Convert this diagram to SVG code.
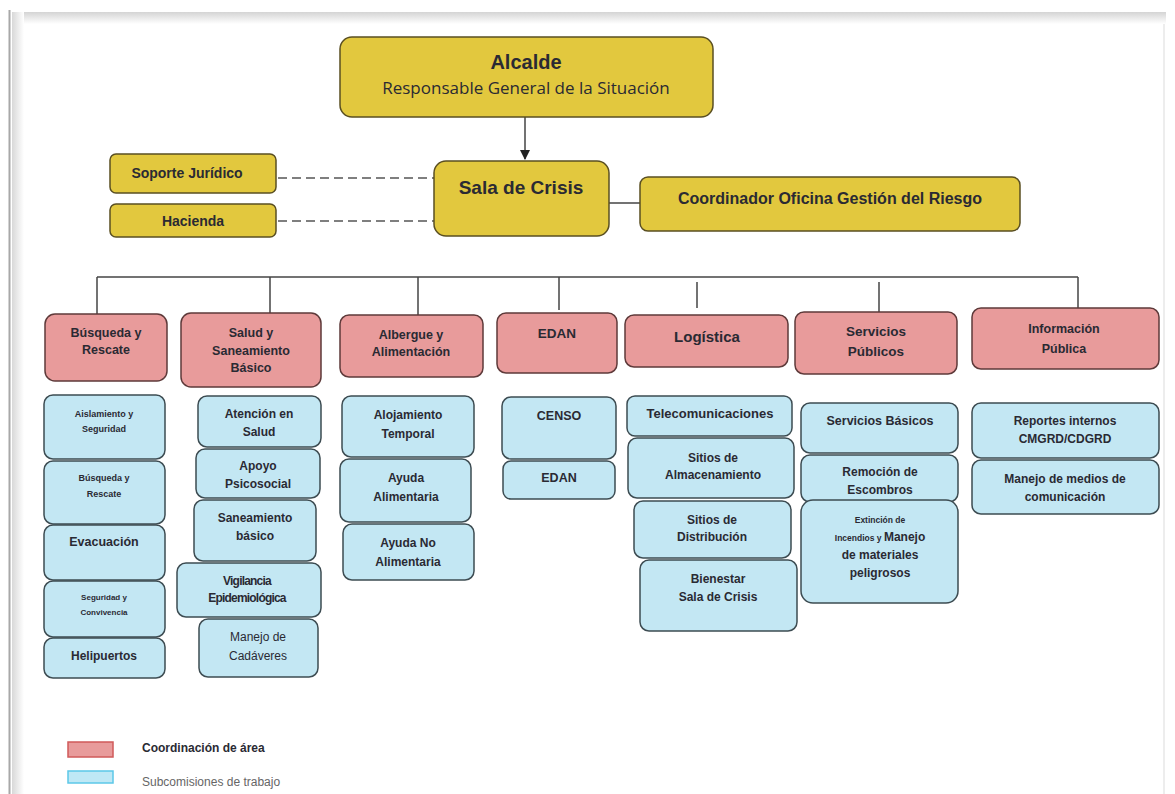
<svg xmlns="http://www.w3.org/2000/svg" width="1175" height="794" viewBox="0 0 1175 794">
<defs>
<linearGradient id="topShadow" x1="0" y1="0" x2="0" y2="1">
<stop offset="0" stop-color="#d4d4d4"/><stop offset="1" stop-color="#ffffff"/>
</linearGradient>
<linearGradient id="leftShadow" x1="0" y1="0" x2="1" y2="0">
<stop offset="0" stop-color="#d8d8d8"/><stop offset="1" stop-color="#ffffff"/>
</linearGradient>
<marker id="arrow" viewBox="0 0 10 10" refX="9" refY="5" markerWidth="7" markerHeight="7" orient="auto">
<path d="M0,0 L10,5 L0,10 z" fill="#222"/>
</marker>
<style>
text{font-family:"Liberation Sans",Arial,sans-serif;fill:#2a2a33;text-anchor:middle;}
.y{fill:#e2c83e;stroke:#5a4f22;stroke-width:1.5;}
.p{fill:#e89b9b;stroke:#5e3a3a;stroke-width:1.5;}
.b{fill:#c3e7f3;stroke:#3d4c52;stroke-width:1.5;}
.t{font-weight:bold;font-size:12px;}
.tp{font-weight:bold;font-size:12.5px;}
.s{font-weight:bold;font-size:9px;}
.ln{stroke:#444;stroke-width:1.5;fill:none;}
.dash{stroke:#555;stroke-width:1.5;stroke-dasharray:9,5;fill:none;}
</style>
</defs>
<rect x="0" y="0" width="1175" height="794" fill="#ffffff"/>
<rect x="14" y="12" width="1152" height="12" fill="url(#topShadow)"/>
<rect x="12" y="12" width="12" height="782" fill="url(#leftShadow)"/>
<line x1="9.5" y1="10" x2="9.5" y2="794" stroke="#a8a8a8" stroke-width="2"/>
<line x1="1164" y1="24" x2="1164" y2="794" stroke="#ededed" stroke-width="2"/>

<g id="connectors">
<line class="ln" x1="525" y1="117" x2="525" y2="159" marker-end="url(#arrow)"/>
<line class="dash" x1="278" y1="178" x2="434" y2="178"/>
<line class="dash" x1="278" y1="221" x2="434" y2="221"/>
<line class="ln" x1="609" y1="203" x2="640" y2="203"/>
<line class="ln" x1="97" y1="277" x2="1078" y2="277"/>
<line class="ln" x1="97" y1="277" x2="97" y2="314"/>
<line class="ln" x1="270" y1="277" x2="270" y2="313"/>
<line class="ln" x1="418" y1="277" x2="418" y2="315"/>
<line class="ln" x1="559" y1="277" x2="559" y2="310"/>
<line class="ln" x1="697" y1="282" x2="697" y2="308"/>
<line class="ln" x1="879" y1="282" x2="879" y2="312"/>
<line class="ln" x1="1078" y1="277" x2="1078" y2="308"/>
</g>

<g id="alcalde"><rect class="y" x="340" y="37" width="373" height="80" rx="12"/>
<text x="526" y="69" style="font-weight:bold;font-size:20px">Alcalde</text>
<text x="526" y="94" style="font-family:'Open Sans','Liberation Sans',sans-serif;font-size:17px">Responsable General de la Situación</text></g>

<g id="sala"><rect class="y" x="434" y="161" width="175" height="75" rx="12"/>
<text x="521" y="194" style="font-weight:bold;font-size:19px">Sala de Crisis</text></g>

<g id="soporte"><rect class="y" x="110" y="154" width="166" height="39" rx="6"/>
<text x="187" y="178" class="tp" style="font-size:14px">Soporte Jurídico</text></g>
<g id="hacienda"><rect class="y" x="110" y="204" width="166" height="33" rx="6"/>
<text x="193" y="226" class="tp" style="font-size:14px">Hacienda</text></g>

<g id="coordinador"><rect class="y" x="640" y="177" width="380" height="54" rx="8"/>
<text x="830" y="204" style="font-weight:bold;font-size:16px">Coordinador Oficina Gestión del Riesgo</text></g>

<!-- pink coordination -->
<g id="p-busqueda"><rect class="p" x="45" y="314" width="122" height="67" rx="10"/>
<text x="106" y="337" class="tp"><tspan x="106">Búsqueda y</tspan><tspan x="106" dy="17">Rescate</tspan></text></g>
<g id="p-salud"><rect class="p" x="181" y="313" width="140" height="74" rx="10"/>
<text x="251" y="337" class="tp"><tspan x="251">Salud y</tspan><tspan x="251" dy="17.5">Saneamiento</tspan><tspan x="251" dy="17.5">Básico</tspan></text></g>
<g id="p-albergue"><rect class="p" x="340" y="315" width="143" height="62" rx="9"/>
<text x="411" y="339" class="tp"><tspan x="411">Albergue y</tspan><tspan x="411" dy="17">Alimentación</tspan></text></g>
<g id="p-edan"><rect class="p" x="497" y="313" width="120" height="60" rx="9"/>
<text x="557" y="338" class="tp" style="font-size:13.5px">EDAN</text></g>
<g id="p-logistica"><rect class="p" x="625" y="315" width="163" height="52" rx="9"/>
<text x="707" y="342" class="tp" style="font-size:15px">Logística</text></g>
<g id="p-servicios"><rect class="p" x="795" y="312" width="162" height="62" rx="9"/>
<text x="876" y="336" class="tp" style="font-size:13.5px"><tspan x="876">Servicios</tspan><tspan x="876" dy="20">Públicos</tspan></text></g>
<g id="p-informacion"><rect class="p" x="972" y="308" width="187" height="61" rx="9"/>
<text x="1064" y="333" class="tp"><tspan x="1064">Información</tspan><tspan x="1064" dy="20">Pública</tspan></text></g>

<!-- column 1 -->
<g id="b-aislamiento"><rect class="b" x="44" y="395" width="121" height="64" rx="9"/>
<text x="104" y="417" class="s"><tspan x="104">Aislamiento y</tspan><tspan x="104" dy="15">Seguridad</tspan></text></g>
<g id="b-busqueda"><rect class="b" x="44" y="461" width="121" height="63" rx="9"/>
<text x="104" y="481" class="s"><tspan x="104">Búsqueda y</tspan><tspan x="104" dy="16">Rescate</tspan></text></g>
<g id="b-evacuacion"><rect class="b" x="44" y="525" width="121" height="55" rx="9"/>
<text x="104" y="546" class="t" style="font-size:12.5px">Evacuación</text></g>
<g id="b-seguridad"><rect class="b" x="44" y="581" width="121" height="56" rx="9"/>
<text x="104" y="600" class="s" style="font-size:8px"><tspan x="104">Seguridad y</tspan><tspan x="104" dy="15">Convivencia</tspan></text></g>
<g id="b-helipuertos"><rect class="b" x="44" y="638" width="121" height="40" rx="9"/>
<text x="104" y="660" class="t">Helipuertos</text></g>

<!-- column 2 -->
<g id="b-atencion"><rect class="b" x="198" y="396" width="123" height="51" rx="9"/>
<text x="259" y="418" class="t"><tspan x="259">Atención en</tspan><tspan x="259" dy="18">Salud</tspan></text></g>
<g id="b-apoyo"><rect class="b" x="196" y="449" width="124" height="49" rx="9"/>
<text x="258" y="470" class="t"><tspan x="258">Apoyo</tspan><tspan x="258" dy="18">Psicosocial</tspan></text></g>
<g id="b-saneamiento"><rect class="b" x="194" y="500" width="122" height="61" rx="9"/>
<text x="255" y="522" class="t"><tspan x="255">Saneamiento</tspan><tspan x="255" dy="18">básico</tspan></text></g>
<g id="b-vigilancia"><rect class="b" x="177" y="563" width="144" height="54" rx="9"/>
<text x="247" y="585" class="t" style="letter-spacing:-0.8px"><tspan x="247">Vigilancia</tspan><tspan x="247" dy="17">Epidemiológica</tspan></text></g>
<g id="b-manejo"><rect class="b" x="199" y="619" width="119" height="58" rx="9"/>
<text x="258" y="641" style="font-size:12px"><tspan x="258">Manejo de</tspan><tspan x="258" dy="19">Cadáveres</tspan></text></g>

<!-- column 3 -->
<g id="b-alojamiento"><rect class="b" x="342" y="396" width="132" height="61" rx="9"/>
<text x="408" y="419" class="t"><tspan x="408">Alojamiento</tspan><tspan x="408" dy="19">Temporal</tspan></text></g>
<g id="b-ayuda"><rect class="b" x="340" y="459" width="131" height="63" rx="9"/>
<text x="406" y="482" class="t"><tspan x="406">Ayuda</tspan><tspan x="406" dy="19">Alimentaria</tspan></text></g>
<g id="b-ayudano"><rect class="b" x="343" y="524" width="131" height="56" rx="9"/>
<text x="408" y="547" class="t"><tspan x="408">Ayuda No</tspan><tspan x="408" dy="19">Alimentaria</tspan></text></g>

<!-- column 4 -->
<g id="b-censo"><rect class="b" x="502" y="397" width="114" height="62" rx="9"/>
<text x="559" y="420" class="t" style="font-size:12.5px">CENSO</text></g>
<g id="b-edan"><rect class="b" x="503" y="461" width="112" height="38" rx="8"/>
<text x="559" y="482" class="t" style="font-size:12.5px">EDAN</text></g>

<!-- column 5 -->
<g id="b-telecom"><rect class="b" x="627" y="396" width="165" height="40" rx="8"/>
<text x="710" y="418" class="t" style="font-size:13px">Telecomunicaciones</text></g>
<g id="b-almacen"><rect class="b" x="628" y="438" width="166" height="60" rx="9"/>
<text x="713" y="462" class="t"><tspan x="713">Sitios de</tspan><tspan x="713" dy="17">Almacenamiento</tspan></text></g>
<g id="b-distribucion"><rect class="b" x="634" y="501" width="157" height="57" rx="9"/>
<text x="712" y="524" class="t"><tspan x="712">Sitios de</tspan><tspan x="712" dy="17">Distribución</tspan></text></g>
<g id="b-bienestar"><rect class="b" x="640" y="560" width="157" height="71" rx="9"/>
<text x="718" y="583" class="t"><tspan x="718">Bienestar</tspan><tspan x="718" dy="18">Sala de Crisis</tspan></text></g>

<!-- column 6 -->
<g id="b-basicos"><rect class="b" x="801" y="403" width="157" height="50" rx="9"/>
<text x="880" y="425" class="t" style="font-size:12.5px">Servicios Básicos</text></g>
<g id="b-remocion"><rect class="b" x="801" y="455" width="157" height="47" rx="9"/>
<text x="880" y="476" class="t"><tspan x="880">Remoción de</tspan><tspan x="880" dy="18">Escombros</tspan></text></g>
<g id="b-extincion"><rect class="b" x="801" y="500" width="157" height="103" rx="12"/>
<text x="880" y="523" class="s" style="font-size:8.5px">Extinción de</text>
<text x="880" y="541" class="t"><tspan class="s" style="font-size:8.5px">Incendios y </tspan>Manejo</text>
<text x="880" y="559" class="t">de materiales</text>
<text x="880" y="577" class="t">peligrosos</text></g>

<!-- column 7 -->
<g id="b-reportes"><rect class="b" x="972" y="403" width="187" height="55" rx="9"/>
<text x="1065" y="425" class="t"><tspan x="1065">Reportes internos</tspan><tspan x="1065" dy="18">CMGRD/CDGRD</tspan></text></g>
<g id="b-medios"><rect class="b" x="972" y="460" width="187" height="54" rx="9"/>
<text x="1065" y="483" class="t"><tspan x="1065">Manejo de medios de</tspan><tspan x="1065" dy="18">comunicación</tspan></text></g>

<!-- legend -->
<g id="legend">
<rect x="68" y="742" width="45" height="15" fill="#e89b9b" stroke="#d05a5a" stroke-width="1.5"/>
<text x="142" y="752" style="text-anchor:start;font-weight:bold;font-size:12px">Coordinación de área</text>
<rect x="68" y="771" width="45" height="12" fill="#bfe8f5" stroke="#5cc8e8" stroke-width="1.5"/>
<text x="142" y="786" style="text-anchor:start;font-size:12px;fill:#666">Subcomisiones de trabajo</text>
</g>
</svg>
